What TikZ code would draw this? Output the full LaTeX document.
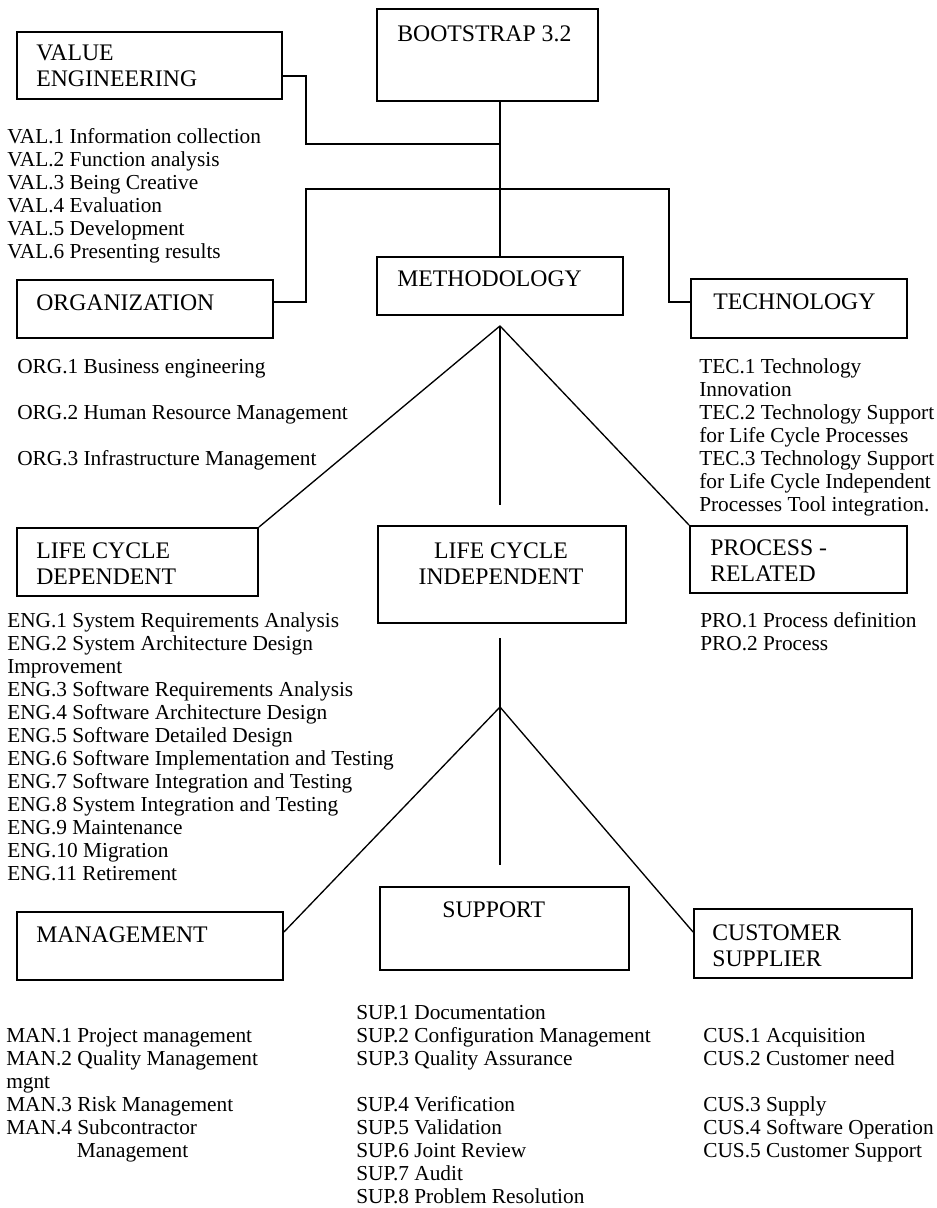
\documentclass[tikz,border=0pt]{standalone}
\usepackage{fontspec}
\setmainfont{Liberation Serif}
\usetikzlibrary{positioning,calc,fit}

\begin{document}
\begin{tikzpicture}[
  x=0.75pt, y=-0.75pt,
  box/.style={draw=black, line width=1.4pt, inner sep=0pt},
  head/.style={anchor=base west, inner sep=0pt, align=left, font=\fontsize{17.8}{19}\selectfont},
  items/.style={anchor=base west, inner sep=0pt, align=left, font=\fontsize{16}{17.25}\selectfont},
  link/.style={draw=black, line width=1.3pt},
  spoke/.style={draw=black, line width=1pt},
]
  \useasboundingbox (0,0) rectangle (937,1208);

  % boxes
  \node[box, fit={(377,9) (598,101)}] (boot) {};
  \node[box, fit={(17,32) (282,99)}] (val) {};
  \node[box, fit={(17,280) (273,338)}] (org) {};
  \node[box, fit={(377,257) (623,315)}] (meth) {};
  \node[box, fit={(691,279) (907,338)}] (tech) {};
  \node[box, fit={(17,528) (258,596)}] (lcd) {};
  \node[box, fit={(378,526) (626,623)}] (lci) {};
  \node[box, fit={(690,526) (907,593)}] (proc) {};
  \node[box, fit={(17,912) (283,980)}] (man) {};
  \node[box, fit={(380,887) (629,970)}] (sup) {};
  \node[box, fit={(694,909) (912,978)}] (cus) {};

  % box titles (base = last line)
  \node[head] (bootlbl) at ($(boot.north west)+(21,33)$) {BOOTSTRAP 3.2};
  \node[head] (vallbl) at ($(val.north west)+(20,55)$) {VALUE\\ENGINEERING};
  \node[head] (orglbl) at ($(org.north west)+(20,31)$) {ORGANIZATION};
  \node[head] (methlbl) at ($(meth.north west)+(21,30)$) {METHODOLOGY};
  \node[head] (techlbl) at ($(tech.north west)+(23,31)$) {TECHNOLOGY};
  \node[head] (lcdlbl) at ($(lcd.north west)+(20,57)$) {LIFE CYCLE\\DEPENDENT};
  \node[head, anchor=base, align=center] (lcilbl) at ($(lci.north west)+(124,59)$) {LIFE CYCLE\\INDEPENDENT};
  \node[head] (proclbl) at ($(proc.north west)+(21,56)$) {PROCESS -\\RELATED};
  \node[head] (manlbl) at ($(man.north west)+(20,31)$) {MANAGEMENT};
  \node[head] (suplbl) at ($(sup.north west)+(63,31)$) {SUPPORT};
  \node[head] (cuslbl) at ($(cus.north west)+(19,58)$) {CUSTOMER\\SUPPLIER};

  % process lists (placed by the baseline of the last line)
  \node[items] (vallist) at (7,258) {VAL.1 Information collection\\VAL.2 Function analysis\\
    VAL.3 Being Creative\\VAL.4 Evaluation\\VAL.5 Development\\VAL.6 Presenting results};
  \node[items] (orglist) at (17,465) {ORG.1 Business engineering\\[17.25pt]
    ORG.2 Human Resource Management\\[17.25pt]ORG.3 Infrastructure Management};
  \node[items] (teclist) at (699,511) {TEC.1 Technology\\Innovation\\TEC.2 Technology Support\\
    for Life Cycle Processes\\TEC.3 Technology Support\\for Life Cycle Independent\\
    Processes Tool integration.};
  \node[items] (englist) at (7,880) {ENG.1 System Requirements Analysis\\
    ENG.2 System Architecture Design\\Improvement\\ENG.3 Software Requirements Analysis\\
    ENG.4 Software Architecture Design\\ENG.5 Software Detailed Design\\
    ENG.6 Software Implementation and Testing\\ENG.7 Software Integration and Testing\\
    ENG.8 System Integration and Testing\\ENG.9 Maintenance\\ENG.10 Migration\\ENG.11 Retirement};
  \node[items] (prolist) at (700,650) {PRO.1 Process definition\\PRO.2 Process};
  \node[items] (manlist) at (6,1157) {MAN.1 Project management\\MAN.2 Quality Management\\mgnt\\
    MAN.3 Risk Management\\MAN.4 Subcontractor\\\hspace*{53pt}Management};
  \node[items] (suplist) at (356,1203) {SUP.1 Documentation\\SUP.2 Configuration Management\\
    SUP.3 Quality Assurance\\[17.25pt]SUP.4 Verification\\SUP.5 Validation\\SUP.6 Joint Review\\
    SUP.7 Audit\\SUP.8 Problem Resolution};
  \node[items] (cuslist) at (703,1157) {CUS.1 Acquisition\\CUS.2 Customer need\\[17.25pt]
    CUS.3 Supply\\CUS.4 Software Operation\\CUS.5 Customer Support};

  % joints
  \coordinate (hubA) at (meth.north |- 0,144);
  \coordinate (hubL) at (306,189);
  \coordinate (hubR) at (669,189);
  \coordinate (fork) at ($(meth.south)+(0,10)$);
  \coordinate (forkend) at (fork |- 0,505);
  \coordinate (stem) at (fork |- 0,638);
  \coordinate (fork2) at (fork |- 0,707);
  \coordinate (stemend) at (fork |- 0,865);

  % connectors
  \draw[link] (meth.north) -- (meth.north |- boot.south);
  \draw[link] ($(val.east)+(0,10.5)$) -| (306,144) -- (hubA);
  \draw[link] ($(org.east)+(0,-7)$) -| (hubL) -- (hubR) |- ($(tech.west)+(0,-6.5)$);
  \draw[spoke] (fork) -- (lcd.north east);
  \draw[spoke] (fork) -- (proc.north west);
  \draw[spoke] (fork) -- (forkend);
  \draw[spoke] (stem) -- (stemend);
  \draw[spoke] (fork2) -- ($(man.east)+(0,-14)$);
  \draw[spoke] (fork2) -- ($(cus.west)+(0,-11.5)$);
\end{tikzpicture}
\end{document}
